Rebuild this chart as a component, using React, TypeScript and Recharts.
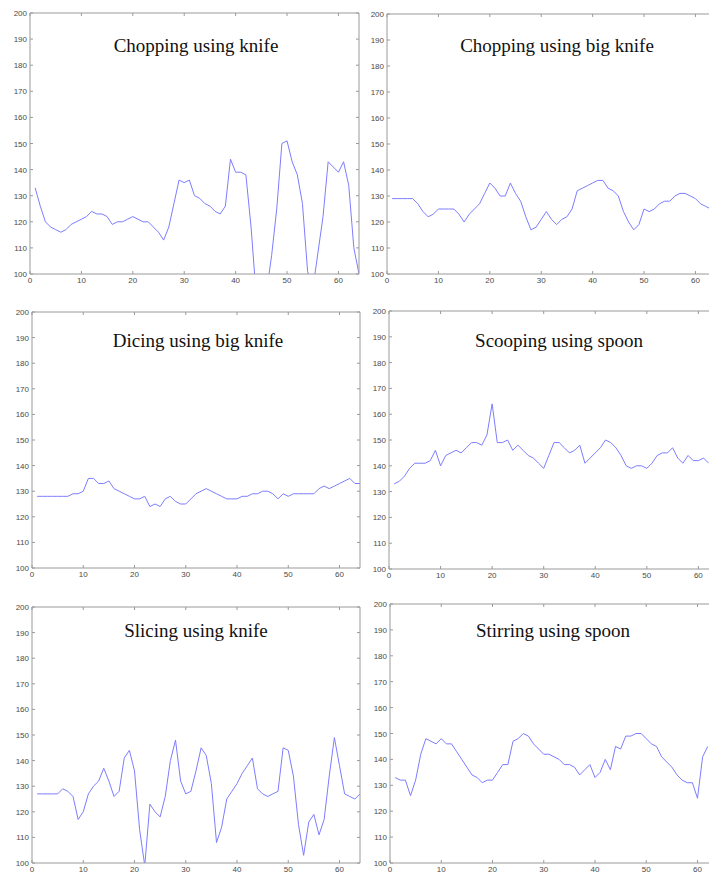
import React from "react";
import { LineChart, Line, XAxis, YAxis } from "recharts";

const titles = [
  "Chopping using knife",
  "Chopping using big knife",
  "Dicing using big knife",
  "Scooping using spoon",
  "Slicing using knife",
  "Stirring using spoon",
];

const chopKnife = [133,126,120,118,117,116,117,119,120,121,122,124,123,123,122,119,120,120,121,122,121,120,120,118,116,113,118,127,136,135,136,130,129,127,126,124,123,126,144,139,139,138,118,92,88,93,107,125,150,151,143,138,127,101,94,108,122,143,141,139,143,134,110,100];
const chopBigKnife = [129,129,129,129,129,127,124,122,123,125,125,125,125,123,120,123,125,127,131,135,133,130,130,135,131,128,122,117,118,121,124,121,119,121,122,125,132,133,134,135,136,136,133,132,130,124,120,117,119,125,124,125,127,128,128,130,131,131,130,129,127,126,125];
const diceBigKnife = [128,128,128,128,128,128,128,129,129,130,135,135,133,133,134,131,130,129,128,127,127,128,124,125,124,127,128,126,125,125,127,129,130,131,130,129,128,127,127,127,128,128,129,129,130,130,129,127,129,128,129,129,129,129,129,131,132,131,132,133,134,135,133,133];
const scoopSpoon = [133,134,136,139,141,141,141,142,146,140,144,145,146,145,147,149,149,148,152,164,149,149,150,146,148,146,144,143,141,139,144,149,149,147,145,146,148,141,143,145,147,150,149,147,144,140,139,140,140,139,141,144,145,145,147,143,141,144,142,142,143,141];
const sliceKnife = [127,127,127,127,127,129,128,126,117,120,127,130,132,137,132,126,128,141,144,136,113,99,123,120,118,126,140,148,132,127,128,136,145,142,131,108,114,125,128,131,135,138,141,129,127,126,127,128,145,144,134,115,103,116,119,111,117,134,149,138,127,126,125,127];
const stirSpoon = [133,132,132,126,132,142,148,147,146,148,146,146,143,140,137,134,133,131,132,132,135,138,138,147,148,150,149,146,144,142,142,141,140,138,138,137,134,136,138,133,135,140,136,145,144,149,149,150,150,148,146,145,141,139,137,134,132,131,131,125,141,145];

const seriesList = [chopKnife, chopBigKnife, diceBigKnife, scoopSpoon, sliceKnife, stirSpoon];

const xTicks = [0, 10, 20, 30, 40, 50, 60];
const yTicks = [100, 110, 120, 130, 140, 150, 160, 170, 180, 190, 200];

// plot area geometry: [left, top, right, bottom]
const panels = [
  [30, 13, 359, 274],
  [387, 14, 716, 274],
  [32, 312, 360, 568],
  [389, 311, 719, 569],
  [32, 607, 360, 863],
  [390, 604, 718, 863],
];
// title centre x, baseline y
const titlePos = [
  [196, 52],
  [557, 52],
  [198, 347],
  [559, 347],
  [196, 637],
  [553, 637],
];

const AX = "#9a9a9a";
const LBL = "#4a4a4a";
const TICKLEN = 3;

const BottomTick = (p: any) => (
  <g>
    <line x1={p.x} y1={p.y} x2={p.x} y2={p.y - TICKLEN} stroke={AX} strokeWidth={1} />
    <text x={p.x} y={p.y + 9} textAnchor="middle" fontSize={8} fill={LBL} fontFamily="Liberation Sans, Arial, sans-serif">
      {p.payload.value}
    </text>
  </g>
);
const TopTick = (p: any) => (
  <line x1={p.x} y1={p.y} x2={p.x} y2={p.y + TICKLEN} stroke={AX} strokeWidth={1} />
);
const LeftTick = (p: any) => (
  <g>
    <line x1={p.x} y1={p.y} x2={p.x + TICKLEN} y2={p.y} stroke={AX} strokeWidth={1} />
    <text x={p.x - 3} y={p.y + 3} textAnchor="end" fontSize={8} fill={LBL} fontFamily="Liberation Sans, Arial, sans-serif">
      {p.payload.value}
    </text>
  </g>
);
const RightTick = (p: any) => (
  <line x1={p.x} y1={p.y} x2={p.x - TICKLEN} y2={p.y} stroke={AX} strokeWidth={1} />
);

const YW = 30; // left axis width
const XH = 20; // bottom axis height
const TH = 8; // top axis height
const RW = 4; // right axis width

function Panel({ idx }: { idx: number }) {
  const [l, t, r, b] = panels[idx];
  const data = seriesList[idx].map((v, i) => ({ x: i + 1, v }));
  const w = r - l + YW + RW;
  const h = b - t + XH + TH;
  return (
    <div style={{ position: "absolute", left: l - YW, top: t - TH, width: w, height: h }}>
      <LineChart width={w} height={h} data={data} margin={{ top: 0, right: 0, bottom: 0, left: 0 }}>
        <XAxis
          xAxisId="b"
          dataKey="x"
          type="number"
          domain={[0, 64]}
          ticks={xTicks}
          interval={0}
          height={XH}
          tickSize={0}
          tickMargin={0}
          axisLine={{ stroke: AX }}
          tickLine={false}
          tick={BottomTick}
          allowDataOverflow
        />
        <XAxis
          xAxisId="t"
          orientation="top"
          dataKey="x"
          type="number"
          domain={[0, 64]}
          ticks={xTicks}
          interval={0}
          height={TH}
          tickSize={0}
          tickMargin={0}
          axisLine={{ stroke: AX }}
          tickLine={false}
          tick={TopTick}
          allowDataOverflow
        />
        <YAxis
          yAxisId="l"
          type="number"
          domain={[100, 200]}
          ticks={yTicks}
          interval={0}
          width={YW}
          tickSize={0}
          tickMargin={0}
          axisLine={{ stroke: AX }}
          tickLine={false}
          tick={LeftTick}
          allowDataOverflow
        />
        <YAxis
          yAxisId="r"
          orientation="right"
          type="number"
          domain={[100, 200]}
          ticks={yTicks}
          interval={0}
          width={RW}
          tickSize={0}
          tickMargin={0}
          axisLine={{ stroke: AX }}
          tickLine={false}
          tick={RightTick}
          allowDataOverflow
        />
        <Line
          xAxisId="b"
          yAxisId="l"
          type="linear"
          dataKey="v"
          stroke="#7d7dff"
          strokeWidth={1}
          dot={false}
          activeDot={false}
          isAnimationActive={false}
        />
      </LineChart>
    </div>
  );
}

export default function App() {
  return (
    <div
      style={{
        position: "absolute",
        left: 0,
        top: 0,
        width: 709,
        height: 872,
        overflow: "hidden",
        background: "#fff",
      }}
    >
      {panels.map((_, i) => (
        <Panel key={i} idx={i} />
      ))}
      <svg width={709} height={872} style={{ position: "absolute", left: 0, top: 0, pointerEvents: "none" }}>
        {titles.map((tt, i) => (
          <text
            key={i}
            x={titlePos[i][0]}
            y={titlePos[i][1]}
            textAnchor="middle"
            fontSize={19}
            fill="#111"
            fontFamily="Liberation Serif, Times New Roman, serif"
          >
            {tt}
          </text>
        ))}
      </svg>
    </div>
  );
}
